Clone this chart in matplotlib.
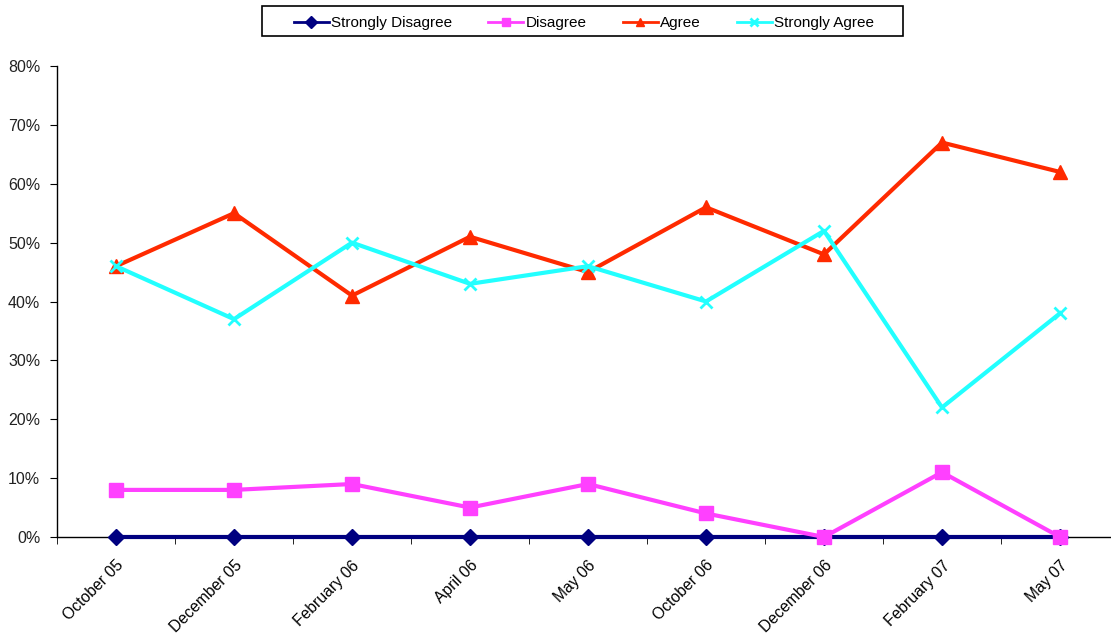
import matplotlib
matplotlib.use("Agg")
import matplotlib.pyplot as plt
import numpy as np
from matplotlib.ticker import FixedLocator, PercentFormatter
from matplotlib.patches import Rectangle

categories = ["October 05", "December 05", "February 06", "April 06", "May 06",
              "October 06", "December 06", "February 07", "May 07"]
strongly_disagree = [0, 0, 0, 0, 0, 0, 0, 0, 0]
disagree = [8, 8, 9, 5, 9, 4, 0, 11, 0]
agree = [46, 55, 41, 51, 45, 56, 48, 67, 62]
strongly_agree = [46, 37, 50, 43, 46, 40, 52, 22, 38]
y_ticks = [0, 10, 20, 30, 40, 50, 60, 70, 80]

plt.rcParams['font.family'] = ['Liberation Sans', 'DejaVu Sans']

W, H = 1111, 638
fig = plt.figure(figsize=(W / 100, H / 100), dpi=100)
ax = fig.add_axes([57/W, 101/H, (1119-57)/W, 471/H])

x = np.arange(len(categories))
ax.plot(x, strongly_disagree, color='#000080', lw=3, marker='D', ms=8, label='Strongly Disagree', clip_on=False, zorder=3)
ax.plot(x, disagree, color='#FF40FF', lw=3, marker='s', ms=10, label='Disagree', clip_on=False, zorder=4)
ax.plot(x, agree, color='#FF2A00', lw=3, marker='^', ms=10, label='Agree', clip_on=False, zorder=5)
ax.plot(x, strongly_agree, color='#22FFFF', lw=3, marker='x', ms=9, mew=2, label='Strongly Agree', clip_on=False, zorder=6)

ax.set_xlim(-0.5, len(categories) - 0.5)
ax.set_ylim(0, 80)
ax.set_yticks(y_ticks)
ax.yaxis.set_major_formatter(PercentFormatter(decimals=0))
ax.set_xticks(x)
ax.set_xticklabels(categories, rotation=45, ha='right', va='top', rotation_mode='anchor', fontsize=11.3)
ax.xaxis.set_minor_locator(FixedLocator(np.arange(-0.5, len(categories), 1.0)))
ax.tick_params(axis='x', which='major', length=0, pad=15)
ax.tick_params(axis='x', which='minor', length=5, direction='out', color='black')
ax.tick_params(axis='y', length=5, direction='out', labelsize=11.5, color='black', pad=7)
for lab in ax.get_yticklabels():
    lab.set_color('#222222')

for s in ['top', 'right']:
    ax.spines[s].set_visible(False)
ax.spines['left'].set_color('black')
ax.spines['bottom'].set_color('black')
ax.spines['left'].set_linewidth(1)
ax.spines['bottom'].set_linewidth(1)

leg = fig.legend(loc='center', bbox_to_anchor=(584/W, 1 - 23/H), ncol=4, frameon=False,
                 fontsize=11, handlelength=2.3, handletextpad=0.15, columnspacing=2.35,
                 borderpad=0.2)
for h in leg.legend_handles:
    h.set_linewidth(2)
    h.set_markersize(6)

fig.patches.append(Rectangle((262/W, 1 - 36/H), 641/W, 30/H, transform=fig.transFigure,
                             fill=False, edgecolor='black', linewidth=1.2))

fig.savefig("out.png", dpi=100)
